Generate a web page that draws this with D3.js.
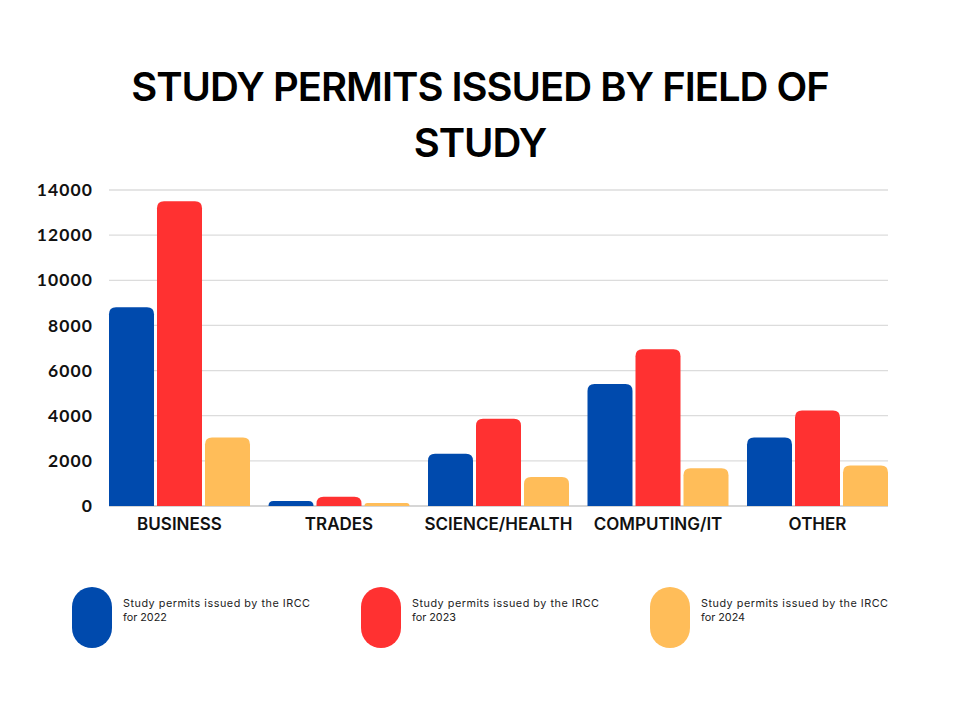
<!DOCTYPE html>
<html>
<head>
<meta charset="utf-8">
<script src="https://cdn.jsdelivr.net/npm/d3@7"></script>
<style>
  body { margin: 0; background: #fff; }
  svg { display: block; }
</style>
</head>
<body>
<div class="chart"></div>
<script>
// data
var categories = ["BUSINESS", "TRADES", "SCIENCE/HEALTH", "COMPUTING/IT", "OTHER"];
var seriesNames = ["2022", "2023", "2024"];
var values2022 = [8800, 220, 2320, 5410, 3030];
var values2023 = [13500, 410, 3860, 6950, 4230];
var values2024 = [3030, 130, 1290, 1670, 1790];
var yTicks = [0, 2000, 4000, 6000, 8000, 10000, 12000, 14000];
var legendLabels = [
    ["Study permits issued by the IRCC", "for 2022"],
    ["Study permits issued by the IRCC", "for 2023"],
    ["Study permits issued by the IRCC", "for 2024"]
];
var colors = ["#004aad", "#ff3131", "#ffbd59"];

var width = 960, height = 720;
var margin = { top: 190, right: 72, bottom: 214, left: 109 };

var svg = d3.select(".chart")
    .append("svg")
    .attr("width", width)
    .attr("height", height);

// title
svg.append("text")
    .attr("x", width / 2)
    .attr("text-anchor", "middle")
    .style("font-family", "Inter")
    .style("font-weight", 600)
    .style("font-size", "40px")
    .style("letter-spacing", "-1px")
    .style("fill", "#000")
    .selectAll("tspan")
    .data(["STUDY PERMITS ISSUED BY FIELD OF", "STUDY"])
    .enter()
    .append("tspan")
    .attr("x", width / 2)
    .attr("y", function (d, i) { return 101 + i * 56; })
    .text(function (d) { return d; });

var g = svg.append("g");

var x0 = d3.scaleBand()
    .domain(categories)
    .range([margin.left, width - margin.right])
    .paddingInner(0.116)
    .paddingOuter(0);

var x1 = d3.scaleBand()
    .domain(seriesNames)
    .range([0, x0.bandwidth()])
    .paddingInner(0.0625);

var y = d3.scaleLinear()
    .domain([0, 14000])
    .range([height - margin.bottom, margin.top]);

// grid lines
g.append("g")
    .selectAll("line")
    .data(yTicks)
    .enter()
    .append("line")
    .attr("x1", margin.left)
    .attr("x2", width - margin.right)
    .attr("y1", function (d) { return y(d); })
    .attr("y2", function (d) { return y(d); })
    .attr("stroke", function (d) { return d === 0 ? "#c8c8c8" : "#dcdcdc"; })
    .attr("stroke-width", 1.3);

// y axis labels
var yAxis = g.append("g")
    .attr("transform", "translate(" + (margin.left - 16) + ",0)")
    .call(d3.axisLeft(y).tickValues(yTicks).tickSize(0).tickPadding(0).tickFormat(d3.format("d")));
yAxis.select(".domain").remove();
yAxis.selectAll("text")
    .style("font-family", "Lato")
    .style("font-weight", 700)
    .style("font-size", "17.5px")
    .style("letter-spacing", "1.1px")
    .style("fill", "#111");

// rounded-top bar path
function topRounded(x, yTop, w, h, r) {
    r = Math.min(r, h, w / 2);
    return "M" + x + "," + (yTop + h) +
        "V" + (yTop + r) +
        "Q" + x + "," + yTop + " " + (x + r) + "," + yTop +
        "H" + (x + w - r) +
        "Q" + (x + w) + "," + yTop + " " + (x + w) + "," + (yTop + r) +
        "V" + (yTop + h) + "Z";
}

var allSeries = [values2022, values2023, values2024];
var rows = categories.map(function (c, i) {
    return {
        cat: c,
        vals: seriesNames.map(function (s, j) { return { key: s, idx: j, value: allSeries[j][i] }; })
    };
});

var groups = g.append("g")
    .selectAll("g")
    .data(rows)
    .enter()
    .append("g")
    .attr("transform", function (d) { return "translate(" + x0(d.cat) + ",0)"; });

groups.selectAll("path")
    .data(function (d) { return d.vals; })
    .enter()
    .append("path")
    .attr("fill", function (d) { return colors[d.idx]; })
    .attr("d", function (d) {
        var top = y(d.value);
        return topRounded(x1(d.key), top, x1.bandwidth(), y(0) - top, 7);
    });

// x axis labels
var xAxis = g.append("g")
    .attr("transform", "translate(0," + y(0) + ")")
    .call(d3.axisBottom(x0).tickSize(0).tickPadding(12));
xAxis.select(".domain").remove();
xAxis.selectAll("text")
    .style("font-family", "Inter")
    .style("font-weight", 600)
    .style("font-size", "17px")
    .style("fill", "#111");

// legend
var legend = svg.append("g")
    .selectAll("g")
    .data(legendLabels)
    .enter()
    .append("g")
    .attr("transform", function (d, i) { return "translate(" + (72 + i * 289) + ",587)"; });

legend.append("rect")
    .attr("width", 40)
    .attr("height", 61)
    .attr("rx", 20)
    .attr("ry", 20)
    .attr("fill", function (d, i) { return colors[i]; });

legend.append("text")
    .style("font-family", "Inter")
    .style("font-size", "10.8px")
    .style("fill", "#222")
    .selectAll("tspan")
    .data(function (d) { return d; })
    .enter()
    .append("tspan")
    .attr("x", 51)
    .attr("y", function (d, i) { return 20 + i * 14; })
    .attr("textLength", function (d, i) { return i === 0 ? 187 : null; })
    .attr("lengthAdjust", "spacing")
    .text(function (d) { return d; });
</script>
</body>
</html>
